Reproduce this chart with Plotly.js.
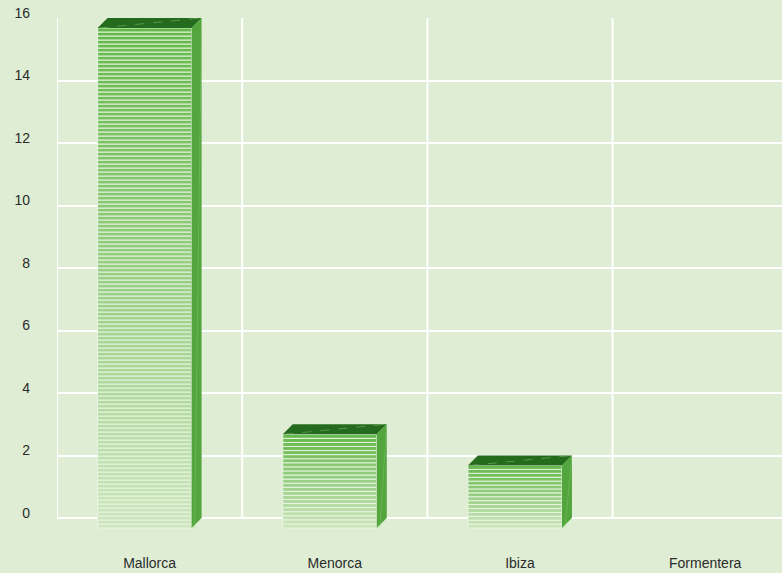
<!DOCTYPE html>
<html>
<head>
<meta charset="utf-8">
<script src="https://cdn.plot.ly/plotly-3.0.1.min.js"></script>
<style>html,body{margin:0;padding:0;background:#deedd4;}#chart{width:782px;height:573px;}</style>
</head>
<body>
<div id="chart"></div>
<script>
// ---- data ----
var categories = ["Mallorca", "Menorca", "Ibiza", "Formentera"];
var values = [16.0, 3.0, 2.0, 0];
var yTickVals = [0, 2, 4, 6, 8, 10, 12, 14, 16];

// ---- geometry / style ----
var W = 782, H = 573;
var M = {l: 57, r: 0, t: 18, b: 40};
var yRange = [-0.48, 16];
var xRange = [-0.5, 3.415];
var plotW = W - M.l - M.r, plotH = H - M.t - M.b;
var pxPerY = plotH / (yRange[1] - yRange[0]);
var pxPerX = plotW / (xRange[1] - xRange[0]);
var depthPx = 10;                 // 3D depth in pixels
var dY = depthPx / pxPerY;        // in y units
var dX = depthPx / pxPerX;        // in x units
var frontLeft = -52 / pxPerX;     // relative to category centre
var frontW = 94 / pxPerX;
var stripePx = 4;

var topC = [100, 184, 74], botC = [205, 230, 190];
function mix(t) {
  var c = topC.map(function (a, k) { return Math.round(a + (botC[k] - a) * t); });
  return 'rgb(' + c.join(',') + ')';
}

var sx = [], sbase = [], sy = [], scol = [];
var shapes = [];
// vertical grid lines
for (var g = 0; g <= categories.length; g++) {
  shapes.push({type: 'line', layer: 'below', xref: 'x', yref: 'y',
    x0: g - 0.5, x1: g - 0.5, y0: 0, y1: 16, line: {color: '#ffffff', width: 2}});
}
values.forEach(function (v, i) {
  if (v <= 0) return;
  var n = Math.max(1, Math.round(v * pxPerY / stripePx));
  var h = v / n;
  for (var k = 0; k < n; k++) {
    sx.push(i);
    sbase.push(-dY + k * h);
    sy.push(h);
    scol.push(mix(1 - (k + 0.5) / n));
  }
  var xl = i + frontLeft, xr = xl + frontW;
  var yt = v - dY, yb = -dY;
  // top face
  shapes.push({type: 'path', layer: 'above', xref: 'x', yref: 'y',
    path: 'M' + xl + ',' + yt + ' L' + xr + ',' + yt + ' L' + (xr + dX) + ',' + v + ' L' + (xl + dX) + ',' + v + ' Z',
    fillcolor: '#256b1e', line: {width: 0}});
  shapes.push({type: 'line', layer: 'above', xref: 'x', yref: 'y',
    x0: xl + 0.01, y0: yt, x1: xr + dX, y1: v,
    line: {color: 'rgba(110,170,90,0.7)', width: 1, dash: 'dash'}});
  // side face
  shapes.push({type: 'path', layer: 'above', xref: 'x', yref: 'y',
    path: 'M' + xr + ',' + yt + ' L' + (xr + dX) + ',' + v + ' L' + (xr + dX) + ',0 L' + xr + ',' + yb + ' Z',
    fillcolor: '#53a53d', line: {width: 0}});
  shapes.push({type: 'line', layer: 'above', xref: 'x', yref: 'y',
    x0: xr + dX, y0: v, x1: xr + dX * 0.3, y1: yb,
    line: {color: 'rgba(150,205,130,0.35)', width: 1}});
});

var trace = {
  type: 'bar', x: sx, base: sbase, y: sy,
  offset: frontLeft, width: frontW,
  marker: {color: scol, line: {color: 'rgba(234,246,228,0.95)', width: 1}},
  hoverinfo: 'skip', showlegend: false
};

var layout = {
  width: W, height: H,
  margin: M,
  paper_bgcolor: '#deedd4', plot_bgcolor: '#deedd4',
  barmode: 'overlay',
  showlegend: false,
  font: {family: 'Liberation Sans, Arial, sans-serif', color: '#2b2b2b', size: 14},
  xaxis: {range: xRange, tickvals: [0, 1, 2, 3], ticktext: categories,
    showgrid: false, zeroline: false, showline: false, ticks: '',
    ticklabelstandoff: 20, tickfont: {size: 14, color: '#2b2b2b'}},
  yaxis: {range: yRange, tickvals: yTickVals, showgrid: true, gridcolor: '#ffffff', gridwidth: 2,
    zeroline: false, showline: false, ticks: '', ticklabelshift: -5, ticklabelstandoff: 26,
    tickfont: {size: 14, color: '#2b2b2b'}},
  shapes: shapes
};

Plotly.newPlot('chart', [trace], layout, {displayModeBar: false, staticPlot: true});
</script>
</body>
</html>
